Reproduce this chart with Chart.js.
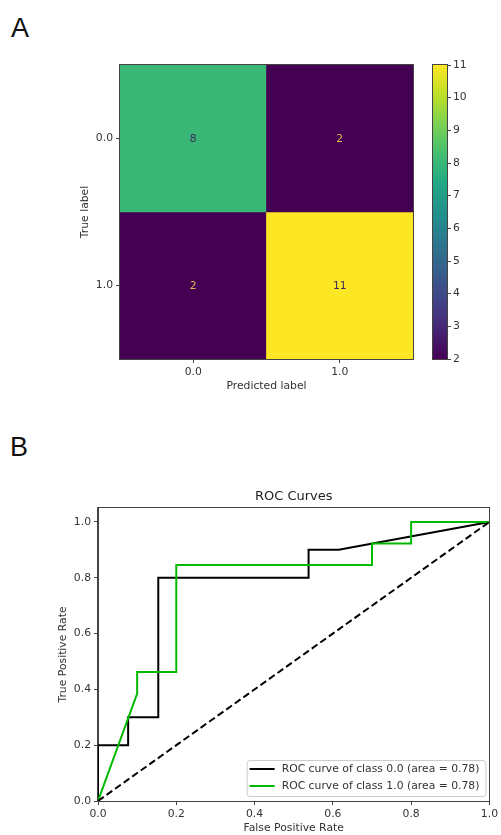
<!DOCTYPE html>
<html><head><meta charset="utf-8">
<script src="https://cdn.jsdelivr.net/npm/chart.js@4.4.1/dist/chart.umd.min.js"></script>
<style>
html,body{margin:0;padding:0;background:#fff;}
#wrap{position:relative;width:501px;height:835px;overflow:hidden;background:#fff;}
canvas{position:absolute;}
.panel{position:absolute;font-family:"Liberation Sans",Arial,sans-serif;font-size:27px;line-height:27px;color:#111;}
</style></head><body>
<div id="wrap">
<div class="panel" style="left:11px;top:15px">A</div>
<div class="panel" style="left:10px;top:434px">B</div>
<canvas id="cm" width="425" height="347" style="left:0;top:50px;width:425px;height:347px"></canvas>
<canvas id="cb" width="101" height="347" style="left:400px;top:50px;width:101px;height:347px"></canvas>
<canvas id="roc" width="501" height="355" style="left:0;top:480px;width:501px;height:355px"></canvas>
</div>
<script>
// ---------- data ----------
const classLabels = ["0.0", "1.0"];
const cmRow0 = [8, 2];
const cmRow1 = [2, 11];
const colorbarTicks = [2, 3, 4, 5, 6, 7, 8, 9, 10, 11];

const fpr0 = [0, 0, 0.077, 0.077, 0.154, 0.154, 0.538, 0.538, 0.615, 1.0];
const tpr0 = [0, 0.2, 0.2, 0.3, 0.3, 0.8, 0.8, 0.9, 0.9, 1.0];
const fpr1 = [0, 0.1, 0.1, 0.2, 0.2, 0.7, 0.7, 0.8, 0.8, 1.0];
const tpr1 = [0, 0.385, 0.462, 0.462, 0.846, 0.846, 0.923, 0.923, 1.0, 1.0];
const diagX = [0, 1];
const diagY = [0, 1];
const rocTicks = [0, 0.2, 0.4, 0.6, 0.8, 1.0];
const legendLabels = ["ROC curve of class 0.0 (area = 0.78)", "ROC curve of class 1.0 (area = 0.78)"];

// ---------- style ----------
const FONT = "'DejaVu Sans', sans-serif";
const FS = 10.8;
const TXT = '#333';
const AX = '#444';
Chart.defaults.font.family = FONT;
Chart.defaults.font.size = FS;
Chart.defaults.color = TXT;

const VIR = ['#440154','#482475','#414487','#355f8d','#2a788e','#21918c','#22a884','#44bf70','#7ad151','#bddf26','#fde725'];
function hx(h){return [parseInt(h.substr(1,2),16),parseInt(h.substr(3,2),16),parseInt(h.substr(5,2),16)];}
function viridis(t){
  t = Math.min(1, Math.max(0, t));
  const p = t * 10, i = Math.min(9, Math.floor(p)), f = p - i;
  const a = hx(VIR[i]), b = hx(VIR[i+1]);
  return 'rgb(' + a.map((v,k)=>Math.round(v + (b[k]-v)*f)).join(',') + ')';
}

const framePlugin = {
  id: 'frame',
  afterDraw(chart){
    const {ctx, chartArea:a} = chart;
    ctx.save();
    ctx.strokeStyle = AX; ctx.lineWidth = 1;
    ctx.strokeRect(Math.round(a.left) - 0.5, Math.round(a.top) - 0.5, Math.round(a.right) - Math.round(a.left) + 1, Math.round(a.bottom) - Math.round(a.top) + 1);
    ctx.restore();
  }
};

const axisCommon = {
  grid: {drawOnChartArea: false, drawTicks: true, tickLength: 4, color: AX, tickColor: AX},
  border: {display: true, color: AX},
};

// ---------- confusion matrix ----------
const rows = [cmRow0, cmRow1];
const allVals = cmRow0.concat(cmRow1);
const vmin = Math.min(...allVals), vmax = Math.max(...allVals);
const thresh = (vmin + vmax) / 2;

const cellTextPlugin = {
  id: 'cellText',
  afterDatasetsDraw(chart){
    const ctx = chart.ctx;
    ctx.save();
    ctx.font = FS + 'px ' + FONT;
    ctx.textAlign = 'center'; ctx.textBaseline = 'middle';
    rows.forEach((r, i) => {
      const meta = chart.getDatasetMeta(i);
      r.forEach((v, j) => {
        const el = meta.data[j];
        ctx.fillStyle = v > thresh ? '#3a2d5c' : '#e9b84a';
        ctx.fillText(String(v), el.x, (el.y + el.base) / 2 + 0.5);
      });
    });
    ctx.restore();
  }
};

new Chart(document.getElementById('cm'), {
  type: 'bar',
  data: {
    labels: classLabels,
    datasets: rows.map((r, i) => ({
      label: 'True ' + classLabels[i],
      data: r.map(() => 1),
      backgroundColor: r.map(v => viridis((v - vmin) / (vmax - vmin))),
      borderWidth: 0,
      categoryPercentage: 1,
      barPercentage: 1
    }))
  },
  options: {
    responsive: false, animation: false, devicePixelRatio: 1,
    layout: {padding: {left: 74.5, top: 15, right: 12, bottom: 0}},
    plugins: {legend: {display: false}, tooltip: {enabled: false}},
    scales: {
      x: {
        stacked: true,
        grid: {offset: false, drawOnChartArea: false, drawTicks: true, tickLength: 4, color: AX, tickColor: AX},
        border: {display: true, color: AX},
        ticks: {padding: 3, color: TXT},
        title: {display: true, text: 'Predicted label', color: TXT, padding: {top: 4, bottom: 4}},
        afterFit: s => { s.height = 38; }
      },
      y: {
        stacked: true, reverse: true, min: 0, max: 2,
        ...axisCommon,
        afterBuildTicks: s => { s.ticks = classLabels.map((_, i) => ({value: i + 0.5})); },
        ticks: {padding: 3, color: TXT, callback: (v, i) => classLabels[i]},
        title: {display: true, text: 'True label', color: TXT, padding: {top: 4, bottom: 4}},
        afterFit: s => { s.width = 45.5; }
      }
    }
  },
  plugins: [cellTextPlugin, framePlugin]
});

// ---------- colorbar ----------
new Chart(document.getElementById('cb'), {
  type: 'bar',
  data: {
    labels: [''],
    datasets: [{
      data: [[vmin, vmax]],
      backgroundColor: (c) => {
        const chart = c.chart, a = chart.chartArea;
        if (!a) return VIR[0];
        const g = chart.ctx.createLinearGradient(0, a.bottom, 0, a.top);
        VIR.forEach((col, i) => g.addColorStop(i / 10, col));
        return g;
      },
      borderWidth: 0, categoryPercentage: 1, barPercentage: 1
    }]
  },
  options: {
    responsive: false, animation: false, devicePixelRatio: 1,
    layout: {padding: {left: 33, top: 15, right: 0, bottom: 38}},
    plugins: {legend: {display: false}, tooltip: {enabled: false}},
    scales: {
      x: {display: false},
      y: {
        position: 'right', min: vmin, max: vmax,
        ...axisCommon,
        afterBuildTicks: s => { s.ticks = colorbarTicks.map(v => ({value: v})); },
        ticks: {padding: 2, color: TXT},
        afterFit: s => { s.width = 54; }
      }
    }
  },
  plugins: [framePlugin]
});

// ---------- ROC ----------
const boxLegendPlugin = {
  id: 'boxLegend',
  afterDraw(chart){
    const {ctx, chartArea:a} = chart;
    const items = chart.data.datasets.filter(d => d.label);
    ctx.save();
    ctx.font = FS + 'px ' + FONT;
    const tw = Math.max(...items.map(d => ctx.measureText(d.label).width));
    const w = 3 + 25 + 7 + tw + 6, h = 36;
    const right = a.right - 4, bottom = a.bottom - 5;
    const left = right - w, top = bottom - h;
    ctx.beginPath();
    if (ctx.roundRect) ctx.roundRect(left + 0.5, top + 0.5, w, h, 3); else ctx.rect(left + 0.5, top + 0.5, w, h);
    ctx.fillStyle = 'rgba(255,255,255,0.85)'; ctx.fill();
    ctx.strokeStyle = '#cccccc'; ctx.lineWidth = 1; ctx.stroke();
    items.forEach((d, i) => {
      const y = top + 9 + i * 17;
      ctx.strokeStyle = d.borderColor; ctx.lineWidth = d.borderWidth; ctx.setLineDash([]);
      ctx.beginPath(); ctx.moveTo(left + 3, y); ctx.lineTo(left + 28, y); ctx.stroke();
      ctx.fillStyle = TXT; ctx.textAlign = 'left'; ctx.textBaseline = 'middle';
      ctx.fillText(d.label, left + 35, y + 0.5);
    });
    ctx.restore();
  }
};

function pts(xs, ys){ return xs.map((x, i) => ({x: x, y: ys[i]})); }

new Chart(document.getElementById('roc'), {
  type: 'line',
  data: {
    datasets: [
      {label: legendLabels[0], data: pts(fpr0, tpr0), borderColor: '#000000', borderWidth: 2, pointRadius: 0, tension: 0, order: 2, fill: false},
      {label: legendLabels[1], data: pts(fpr1, tpr1), borderColor: '#00bb00', borderWidth: 2, pointRadius: 0, tension: 0, order: 1, fill: false},
      {label: '', data: pts(diagX, diagY), borderColor: '#000000', borderWidth: 2, borderDash: [7, 3.5], pointRadius: 0, tension: 0, order: 0, fill: false}
    ]
  },
  options: {
    responsive: false, animation: false, devicePixelRatio: 1,
    layout: {padding: {left: 52.5, top: 0, right: 9, bottom: 0}},
    plugins: {
      legend: {display: false}, tooltip: {enabled: false},
      title: {display: true, text: 'ROC Curves', fullSize: false, color: '#222', font: {size: 13, weight: 'normal'}, padding: {top: 9.2, bottom: 3.2}}
    },
    scales: {
      x: {
        type: 'linear', min: 0, max: 1,
        ...axisCommon,
        afterBuildTicks: s => { s.ticks = rocTicks.map(v => ({value: v})); },
        ticks: {padding: 3, color: TXT, callback: v => v.toFixed(1)},
        title: {display: true, text: 'False Positive Rate', color: TXT, padding: {top: 4, bottom: 0}},
        afterFit: s => { s.height = 34; }
      },
      y: {
        type: 'linear', min: 0, max: 1.05,
        ...axisCommon,
        afterBuildTicks: s => { s.ticks = rocTicks.map(v => ({value: v})); },
        ticks: {padding: 3, color: TXT, callback: v => v.toFixed(1)},
        title: {display: true, text: 'True Positive Rate', color: TXT, padding: {top: 4, bottom: 4}},
        afterFit: s => { s.width = 45.5; }
      }
    }
  },
  plugins: [framePlugin, boxLegendPlugin]
});
</script>
</body></html>
